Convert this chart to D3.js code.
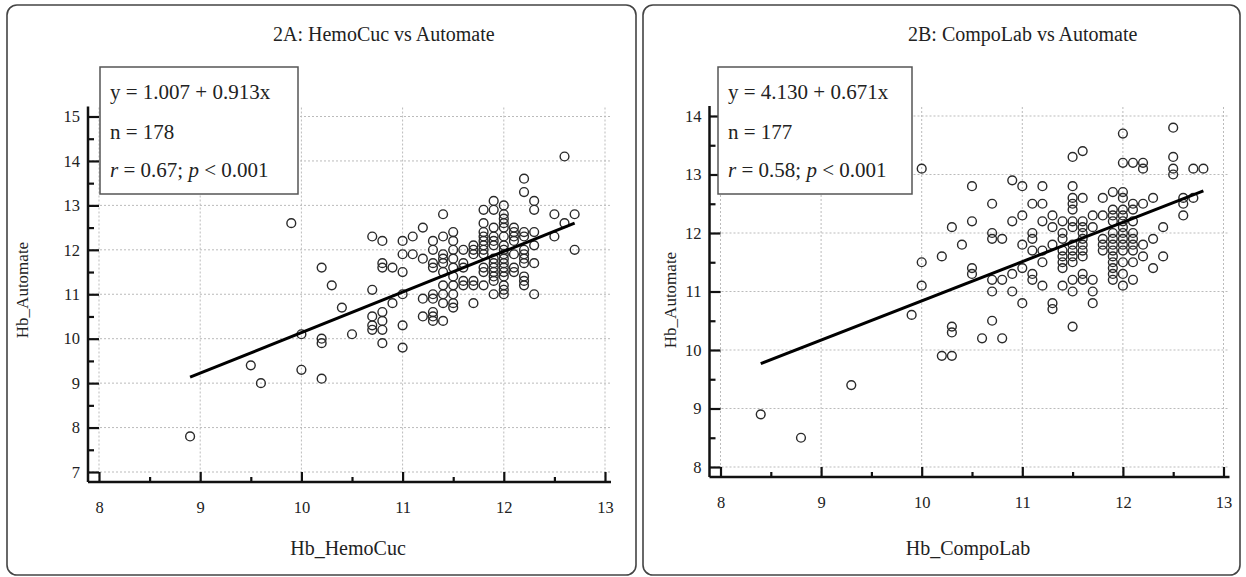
<!DOCTYPE html>
<html>
<head>
<meta charset="utf-8">
<script src="https://cdn.jsdelivr.net/npm/d3@7"></script>
<style>
  body { margin: 0; background: #fff; }
  svg { display: block; font-family: "Liberation Serif", "DejaVu Serif", serif; }
</style>
</head>
<body>
<svg id="chart" width="1246" height="577"></svg>
<script>
// --- data (x value, then the y values in that column) ---
const hemoCucCols = [
  [8.9, [7.8]], [9.5, [9.4]], [9.6, [9.0]], [9.9, [12.6]],
  [10.0, [10.1, 9.3]], [10.2, [11.6, 10.0, 9.9, 9.1]], [10.3, [11.2]],
  [10.4, [10.7]], [10.5, [10.1]],
  [10.7, [12.3, 11.1, 10.5, 10.3, 10.2]],
  [10.8, [12.2, 11.7, 11.6, 10.6, 10.4, 10.2, 9.9]],
  [10.9, [11.6, 10.8]],
  [11.0, [12.2, 11.9, 11.5, 11.0, 10.3, 9.8]],
  [11.1, [12.3, 11.9]],
  [11.2, [12.5, 11.8, 10.9, 10.5]],
  [11.3, [12.2, 12.0, 11.7, 11.6, 11.0, 10.9, 10.6, 10.5, 10.4]],
  [11.4, [12.8, 12.3, 11.9, 11.8, 11.7, 11.5, 11.2, 11.0, 10.8, 10.4]],
  [11.5, [12.4, 12.2, 12.0, 11.8, 11.6, 11.4, 11.2, 11.0, 10.8, 10.7]],
  [11.6, [12.0, 11.7, 11.6, 11.3, 11.2]],
  [11.7, [12.1, 12.0, 11.9, 11.3, 11.2, 10.8]],
  [11.8, [12.9, 12.6, 12.4, 12.3, 12.2, 12.1, 12.0, 11.9, 11.6, 11.5, 11.2]],
  [11.9, [13.1, 12.9, 12.5, 12.3, 12.2, 12.1, 11.8, 11.7, 11.6, 11.5, 11.4, 11.3, 11.0]],
  [12.0, [13.0, 12.8, 12.7, 12.6, 12.5, 12.3, 12.1, 12.0, 11.9, 11.8, 11.7, 11.6, 11.5, 11.4, 11.2, 11.1, 11.0]],
  [12.1, [12.5, 12.4, 12.3, 12.2, 11.9, 11.6, 11.5]],
  [12.2, [13.6, 13.3, 12.4, 12.3, 12.0, 11.9, 11.8, 11.7, 11.4, 11.3, 11.2]],
  [12.3, [13.1, 12.9, 12.4, 12.1, 11.7, 11.0]],
  [12.5, [12.8, 12.3]], [12.6, [14.1, 12.6]], [12.7, [12.8, 12.0]]
];

const compoLabCols = [
  [8.4, [8.9]], [8.8, [8.5]], [9.3, [9.4]], [9.9, [10.6]],
  [10.0, [13.1, 11.5, 11.1]], [10.2, [11.6, 9.9]],
  [10.3, [12.1, 10.4, 10.3, 9.9]], [10.4, [11.8]],
  [10.5, [12.8, 12.2, 11.4, 11.3]], [10.6, [10.2]],
  [10.7, [12.5, 12.0, 11.9, 11.2, 11.0, 10.5]],
  [10.8, [11.9, 11.2, 10.2]],
  [10.9, [12.9, 12.2, 11.3, 11.0]],
  [11.0, [12.8, 12.3, 11.8, 11.4, 10.8]],
  [11.1, [12.5, 12.0, 11.9, 11.7, 11.3, 11.2]],
  [11.2, [12.8, 12.5, 12.2, 11.7, 11.5, 11.1]],
  [11.3, [12.3, 12.1, 11.8, 10.8, 10.7]],
  [11.4, [12.2, 12.0, 11.9, 11.7, 11.6, 11.5, 11.4, 11.1]],
  [11.5, [13.3, 12.8, 12.6, 12.5, 12.4, 12.2, 12.1, 11.8, 11.7, 11.6, 11.5, 11.2, 11.0, 10.4]],
  [11.6, [13.4, 12.6, 12.2, 12.1, 12.0, 11.9, 11.8, 11.7, 11.6, 11.3, 11.2]],
  [11.7, [12.3, 12.1, 11.2, 11.0, 10.8]],
  [11.8, [12.6, 12.3, 11.9, 11.8, 11.7]],
  [11.9, [12.7, 12.4, 12.3, 12.2, 12.0, 11.9, 11.8, 11.7, 11.6, 11.5, 11.4, 11.3, 11.2]],
  [12.0, [13.7, 13.2, 12.7, 12.6, 12.4, 12.3, 12.2, 12.1, 12.0, 11.9, 11.8, 11.7, 11.5, 11.3, 11.1]],
  [12.1, [13.2, 12.5, 12.4, 12.2, 12.0, 11.9, 11.8, 11.7, 11.5, 11.2]],
  [12.2, [13.2, 13.1, 12.5, 11.8, 11.6]],
  [12.3, [12.6, 11.9, 11.4]], [12.4, [12.1, 11.6]],
  [12.5, [13.8, 13.3, 13.1, 13.0]], [12.6, [12.6, 12.5, 12.3]],
  [12.7, [13.1, 12.6]], [12.8, [13.1]]
];

// regression: intercept, slope, x range of the drawn line
const fitA = { a: 1.007, b: 0.913, from: 8.9, to: 12.7 };
const fitB = { a: 4.130, b: 0.671, from: 8.4, to: 12.8 };

const statsA = ["y = 1.007 + 0.913x", "n = 178", ["r", " = 0.67; ", "p", " < 0.001"]];
const statsB = ["y = 4.130 + 0.671x", "n = 177", ["r", " = 0.58; ", "p", " < 0.001"]];

const xTicks = [8, 9, 10, 11, 12, 13];
const yTicksA = [7, 8, 9, 10, 11, 12, 13, 14, 15];
const yTicksB = [8, 9, 10, 11, 12, 13, 14];

const svg = d3.select("#chart");

function flatten(cols) {
  const out = [];
  cols.forEach(([x, ys]) => ys.forEach(y => out.push([x, y])));
  return out;
}

function drawPanel(p) {
  const g = svg.append("g");

  // frame
  g.append("rect")
    .attr("x", p.frame[0]).attr("y", 5)
    .attr("width", p.frame[1] - p.frame[0]).attr("height", 570)
    .attr("rx", 10).attr("ry", 10)
    .attr("fill", "#fff").attr("stroke", "#444").attr("stroke-width", 1.6);

  const x = d3.scaleLinear().domain([8, 13]).range(p.xRange);
  const y = d3.scaleLinear().domain(p.yDomain).range(p.yRange);
  const axisX = p.xRange[0] - 11;   // left axis line
  const axisY = p.yRange[0] + 10;   // bottom axis line
  const right = p.xRange[1] + 6;
  const top = p.yRange[1] - 9;

  // dotted grid
  g.append("g").selectAll("line").data(xTicks).join("line")
    .attr("x1", d => x(d)).attr("x2", d => x(d))
    .attr("y1", top).attr("y2", axisY)
    .attr("stroke", "#bbb").attr("stroke-dasharray", "2,2");
  g.append("g").selectAll("line").data(p.yTicks).join("line")
    .attr("x1", axisX).attr("x2", right)
    .attr("y1", d => y(d)).attr("y2", d => y(d))
    .attr("stroke", "#bbb").attr("stroke-dasharray", "2,2");

  // left axis (ticks point inward)
  const yMinor = p.yTicks.slice(0, -1).map(v => v + 0.5);
  const yAx = g.append("g").attr("transform", `translate(${axisX},0)`);
  yAx.call(d3.axisLeft(y).tickValues(p.yTicks).tickSize(-11).tickPadding(8).tickFormat(d3.format("d")));
  yAx.append("g").call(d3.axisLeft(y).tickValues(yMinor).tickSize(-6).tickFormat(""));
  yAx.selectAll(".domain").remove();
  yAx.selectAll("line").attr("stroke", "#111");
  yAx.selectAll(".tick line").attr("stroke-width", 2.2);
  yAx.selectAll("text").attr("font-size", 16.5).attr("font-family", "Liberation Serif").attr("fill", "#222");
  yAx.append("line").attr("y1", top - 1).attr("y2", axisY).attr("stroke", "#111").attr("stroke-width", 2.5);

  // bottom axis
  const xMinor = xTicks.slice(0, -1).map(v => v + 0.5);
  const xAx = g.append("g").attr("transform", `translate(0,${axisY})`);
  xAx.call(d3.axisBottom(x).tickValues(xTicks).tickSize(-10).tickPadding(19).tickFormat(d3.format("d")));
  xAx.append("g").call(d3.axisBottom(x).tickValues(xMinor).tickSize(-5).tickFormat(""));
  xAx.selectAll(".domain").remove();
  xAx.selectAll("line").attr("stroke", "#111");
  xAx.selectAll(".tick line").attr("stroke-width", 2.2);
  xAx.selectAll("text").attr("font-size", 16.5).attr("font-family", "Liberation Serif").attr("fill", "#222");
  xAx.append("line").attr("x1", axisX).attr("x2", right).attr("stroke", "#111").attr("stroke-width", 2.5);

  // points
  g.append("g").selectAll("circle").data(flatten(p.cols)).join("circle")
    .attr("cx", d => x(d[0])).attr("cy", d => y(d[1])).attr("r", 4.4)
    .attr("fill", "none").attr("stroke", "#2a2a2a").attr("stroke-width", 1.4);

  // regression line
  const fx = [p.fit.from, p.fit.to];
  g.append("path")
    .datum(fx)
    .attr("d", d3.line().x(d => x(d)).y(d => y(p.fit.a + p.fit.b * d)))
    .attr("stroke", "#000").attr("stroke-width", 3).attr("fill", "none");

  // titles
  g.append("text").attr("x", p.titleX).attr("y", 41)
    .attr("font-size", 20).attr("fill", "#222").text(p.title);
  g.append("text")
    .attr("x", (p.xRange[0] + p.xRange[1]) / 2 - 4).attr("y", 555)
    .attr("text-anchor", "middle").attr("font-size", 20).attr("fill", "#222").text(p.xLabel);
  g.append("text")
    .attr("transform", `translate(${p.yLabelX},${p.yLabelY}) rotate(-90)`)
    .attr("text-anchor", "middle").attr("font-size", 17).attr("fill", "#222").text("Hb_Automate");

  // stats box
  g.append("rect")
    .attr("x", p.box[0]).attr("y", 67).attr("width", p.box[1] - p.box[0]).attr("height", 127)
    .attr("fill", "#fff").attr("stroke", "#555").attr("stroke-width", 1.5);
  const lines = [99, 139, 177];
  p.stats.forEach((s, i) => {
    const t = g.append("text").attr("x", p.box[0] + 10).attr("y", lines[i])
      .attr("font-size", 21).attr("fill", "#222");
    if (Array.isArray(s)) {
      s.forEach((part, j) => t.append("tspan").attr("font-style", j % 2 === 0 ? "italic" : "normal").text(part));
    } else {
      t.text(s);
    }
  });
}

drawPanel({
  frame: [7, 636], xRange: [99, 605], yDomain: [7, 15], yRange: [472, 116.5],
  yTicks: yTicksA, cols: hemoCucCols, fit: fitA, stats: statsA,
  title: "2A: HemoCuc vs Automate", titleX: 273, xLabel: "Hb_HemoCuc",
  yLabelX: 28, yLabelY: 290, box: [100, 298]
});

drawPanel({
  frame: [643, 1240], xRange: [720.5, 1223.5], yDomain: [8, 14], yRange: [467, 116],
  yTicks: yTicksB, cols: compoLabCols, fit: fitB, stats: statsB,
  title: "2B: CompoLab vs Automate", titleX: 908, xLabel: "Hb_CompoLab",
  yLabelX: 676, yLabelY: 300, box: [718, 912]
});
</script>
</body>
</html>
